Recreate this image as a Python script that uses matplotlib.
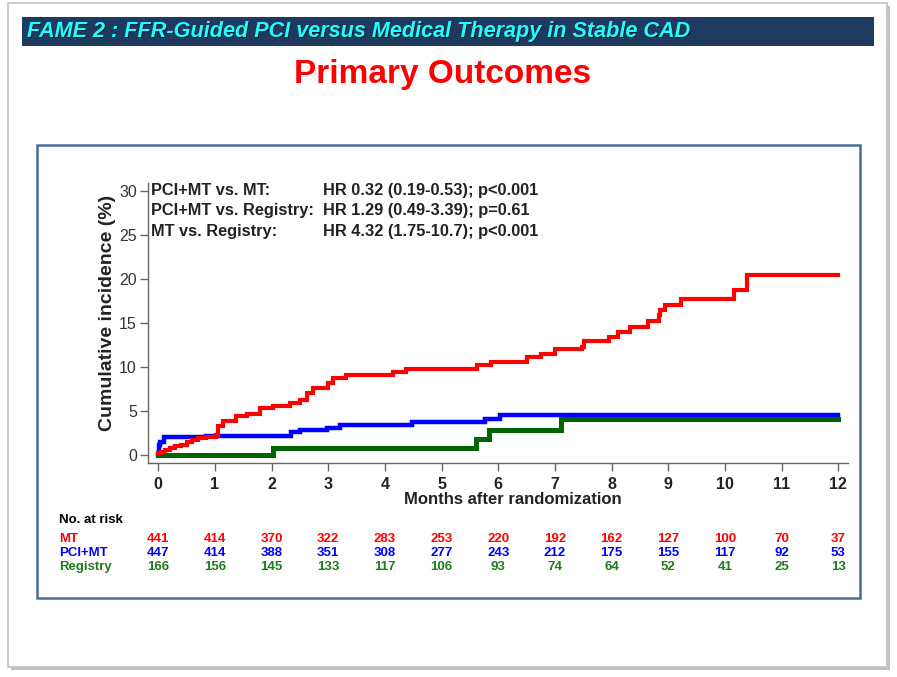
import numpy as np
import matplotlib
matplotlib.use("Agg")
import matplotlib.pyplot as plt
from matplotlib.patches import Rectangle

plt.rcParams['font.family'] = ['Liberation Sans', 'DejaVu Sans']

W, H = 897, 677

# Kaplan-Meier style step curves (months, cumulative incidence %)
t_mt = [0, 0.05, 0.12, 0.2, 0.3, 0.4, 0.5, 0.6, 0.7, 0.85, 1.02, 1.06, 1.15, 1.38, 1.56, 1.79,
        2.03, 2.32, 2.5, 2.62, 2.73, 3.0, 3.09, 3.32, 4.15, 4.38, 5.62, 5.87, 6.5, 6.75, 7.0,
        7.47, 7.51, 7.95, 8.11, 8.32, 8.65, 8.83, 8.86, 8.94, 9.22, 10.16, 10.39, 12]
v_mt = [0.2, 0.4, 0.6, 0.8, 1.0, 1.2, 1.5, 1.7, 1.9, 2.1, 2.3, 3.3, 3.9, 4.4, 4.7, 5.4,
        5.6, 5.9, 6.3, 7.0, 7.6, 8.2, 8.8, 9.1, 9.4, 9.8, 10.2, 10.6, 11.1, 11.5, 12.0,
        12.3, 12.9, 13.4, 14.0, 14.6, 15.2, 15.9, 16.5, 17.1, 17.7, 18.7, 20.5, 20.5]

t_pci = [0, 0.01, 0.04, 0.1, 0.85, 2.34, 2.5, 2.97, 3.2, 4.47, 5.76, 6.03, 12]
v_pci = [0, 1.2, 1.5, 2.1, 2.2, 2.6, 2.9, 3.1, 3.4, 3.7, 4.1, 4.5, 4.5]

t_reg = [0, 2.03, 5.6, 5.83, 7.1, 12]
v_reg = [0, 0.8, 1.8, 2.9, 4.1, 4.1]

months = list(range(13))
risk_labels = ["MT", "PCI+MT", "Registry"]
risk_mt = [441, 414, 370, 322, 283, 253, 220, 192, 162, 127, 100, 70, 37]
risk_pci = [447, 414, 388, 351, 308, 277, 243, 212, 175, 155, 117, 92, 53]
risk_reg = [166, 156, 145, 133, 117, 106, 93, 74, 64, 52, 41, 25, 13]

hr_left = ["PCI+MT vs. MT:", "PCI+MT vs. Registry:", "MT vs. Registry:"]
hr_right = ["HR 0.32 (0.19-0.53); p<0.001", "HR 1.29 (0.49-3.39); p=0.61",
            "HR 4.32 (1.75-10.7); p<0.001"]

red = "#FF0000"
blue = "#0000FF"
green = "#006400"
green_txt = "#1E7B1E"


def px(x, y):
    return x / W, 1 - y / H


fig = plt.figure(figsize=(W / 100, H / 100), dpi=100)
fig.patch.set_facecolor("white")

# slide with shadow
fig.add_artist(Rectangle(px(11, 670), 879 / W, 664 / H, transform=fig.transFigure,
                         facecolor="#9a9a9a", edgecolor="none", alpha=0.6, zorder=0))
fig.add_artist(Rectangle(px(8, 667), 879 / W, 664 / H, transform=fig.transFigure,
                         facecolor="white", edgecolor="#c4c4c4", lw=1.2, zorder=0.5))

# title bar
fig.add_artist(Rectangle(px(22, 46), 852 / W, 29 / H, transform=fig.transFigure,
                         facecolor="#1F3A5F", edgecolor="none", zorder=1))
title = "FAME 2 : FFR-Guided PCI versus Medical Therapy in Stable CAD"
fig.text(*px(27.5, 32.5), title, color="#0a1a30", fontsize=15.6, fontweight="bold",
         fontstyle="italic", ha="left", va="center", zorder=2)
fig.text(*px(26.5, 31.5), title, color="#22FFFF", fontsize=15.6, fontweight="bold",
         fontstyle="italic", ha="left", va="center", zorder=2)
fig.text(*px(443, 74), "Primary Outcomes", color=red, fontsize=24, fontweight="bold",
         ha="center", va="center")

# chart frame
fig.add_artist(Rectangle(px(37, 598), 823 / W, 453 / H, transform=fig.transFigure,
                         facecolor="white", edgecolor="#4A6C9B", lw=1.8, zorder=1))

l, b = px(148, 463)
ax = fig.add_axes([l, b, 700 / W, 280 / H], zorder=3)
ax.set_facecolor("none")
ax.step(t_pci, v_pci, where="post", color=blue, lw=3.2, solid_joinstyle="miter")
ax.step(t_reg, v_reg, where="post", color=green, lw=3.6, solid_joinstyle="miter")
ax.step(t_mt, v_mt, where="post", color=red, lw=3.0, solid_joinstyle="miter")

ax.set_xlim(-0.18, 12.17)
ax.set_ylim(-0.9, 30.9)
ax.set_xticks(months)
ax.set_yticks([0, 5, 10, 15, 20, 25, 30])
for s in ["top", "right"]:
    ax.spines[s].set_visible(False)
for s in ["left", "bottom"]:
    ax.spines[s].set_color("#666666")
    ax.spines[s].set_linewidth(1.0)
ax.tick_params(axis="both", length=6, color="#666666", width=1.0)
ax.tick_params(axis="y", labelsize=11.5, labelcolor="#333333", pad=2)
ax.tick_params(axis="x", labelsize=11.5, labelcolor="#222222", pad=4)
for lab in ax.get_xticklabels():
    lab.set_fontweight("bold")

fig.text(*px(108, 313), "Cumulative incidence (%)", rotation=90, fontsize=14,
         fontweight="bold", color="#222222", ha="center", va="center")
fig.text(*px(513, 499), "Months after randomization", fontsize=12,
         fontweight="bold", color="#222222", ha="center", va="center")

# hazard ratios
for i, (a, c) in enumerate(zip(hr_left, hr_right)):
    y = 190.5 + i * 20.5
    fig.text(*px(151, y), a, fontsize=11.8, fontweight="bold", color="#222222",
             ha="left", va="center", zorder=4)
    fig.text(*px(323, y), c, fontsize=11.8, fontweight="bold", color="#222222",
             ha="left", va="center", zorder=4)

# numbers at risk
fig.text(*px(59, 520), "No. at risk", fontsize=9.5, fontweight="bold", color="black",
         ha="left", va="center")
rows = [(risk_mt, red), (risk_pci, blue), (risk_reg, green_txt)]
for j, ((vals, col), name) in enumerate(zip(rows, risk_labels)):
    y = 538.5 + j * 14.3
    fig.text(*px(59, y), name, fontsize=9.5, fontweight="bold", color=col,
             ha="left", va="center")
    for m, n in zip(months, vals):
        xp = ax.transData.transform((m, 0))[0]
        fig.text(xp / W, 1 - y / H, str(n), fontsize=9.5, fontweight="bold", color=col,
                 ha="center", va="center")

fig.savefig("out.png", dpi=100)
